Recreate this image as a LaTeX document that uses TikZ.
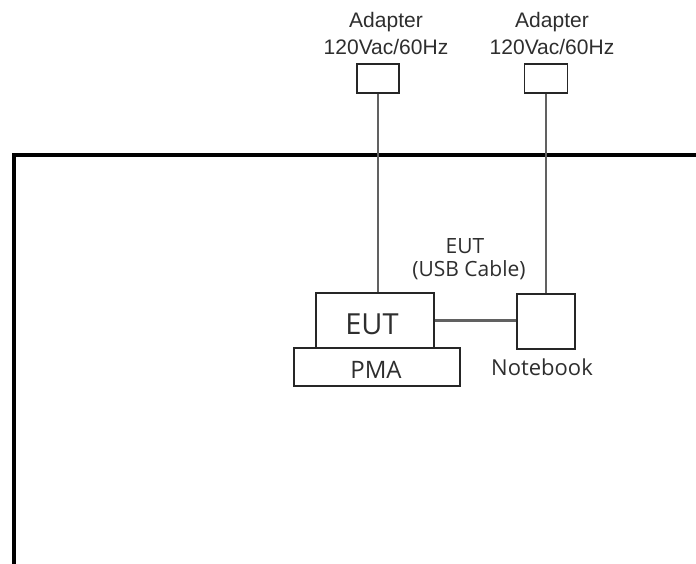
\documentclass[tikz,border=0pt]{standalone}
\usepackage{fontspec}
\setmainfont{Liberation Sans}
\newfontfamily\osans{Open Sans}
\begin{document}
\begin{tikzpicture}[x=1pt,y=-1pt,
  dev/.style={draw=black!85, line width=1.8pt, inner sep=0pt, fill=white},
  wire/.style={draw=black!62, line width=2.3pt},
  frame/.style={draw=black, line width=3.2pt},
  lbl/.style={inner sep=0pt, anchor=base, text=black!82}]
\useasboundingbox (0,0) rectangle (696,564);
\clip (0,0) rectangle (696,564);
% outer frame
\coordinate (fa) at (14,155);
\coordinate (fb) at (720,590);
\draw[frame] (fa) rectangle (fb);
% adapters
\node[dev, minimum width=42pt, minimum height=29pt] (adl) at (378,78.5) {};
\node[dev, minimum width=43pt, minimum height=29pt] (adr) at (546,78.5) {};
\node[lbl, font=\fontsize{21}{24}\selectfont] (adlt1) at (386,28) {Adapter};
\node[lbl, font=\fontsize{21}{24}\selectfont] (adlt2) at (386,55) {120Vac/60Hz};
\node[lbl, font=\fontsize{21}{24}\selectfont] (adrt1) at (552,28) {Adapter};
\node[lbl, font=\fontsize{21}{24}\selectfont] (adrt2) at (552,55) {120Vac/60Hz};
% devices
\node[dev, minimum width=166pt, minimum height=38pt] (pma) at (377,367) {};
\node[dev, minimum width=118pt, minimum height=55pt] (eut) at (375,320.5) {};
\node[dev, minimum width=58pt, minimum height=55pt] (nb) at (546,321.5) {};
\node[lbl, font=\osans\fontsize{29}{32}\selectfont] (eutt) at (372,334) {EUT};
\node[lbl, font=\osans\fontsize{24}{27}\selectfont] (pmat) at (376,378) {PMA};
\node[lbl, font=\osans\fontsize{22}{25}\selectfont] (nbt) at (542,375) {Notebook};
\node[lbl, font=\osans\fontsize{21}{24}\selectfont] (usb1) at (465,253) {EUT};
\node[lbl, font=\osans\fontsize{21}{24}\selectfont] (usb2) at (469,276) {(USB Cable)};
% wires
\draw[wire] (adl.south) -- (adl.south |- eut.north);
\draw[wire] (adr.south) -- (adr.south |- nb.north);
\draw[wire] (eut.east) -- (eut.east -| nb.west);
\end{tikzpicture}
\end{document}
